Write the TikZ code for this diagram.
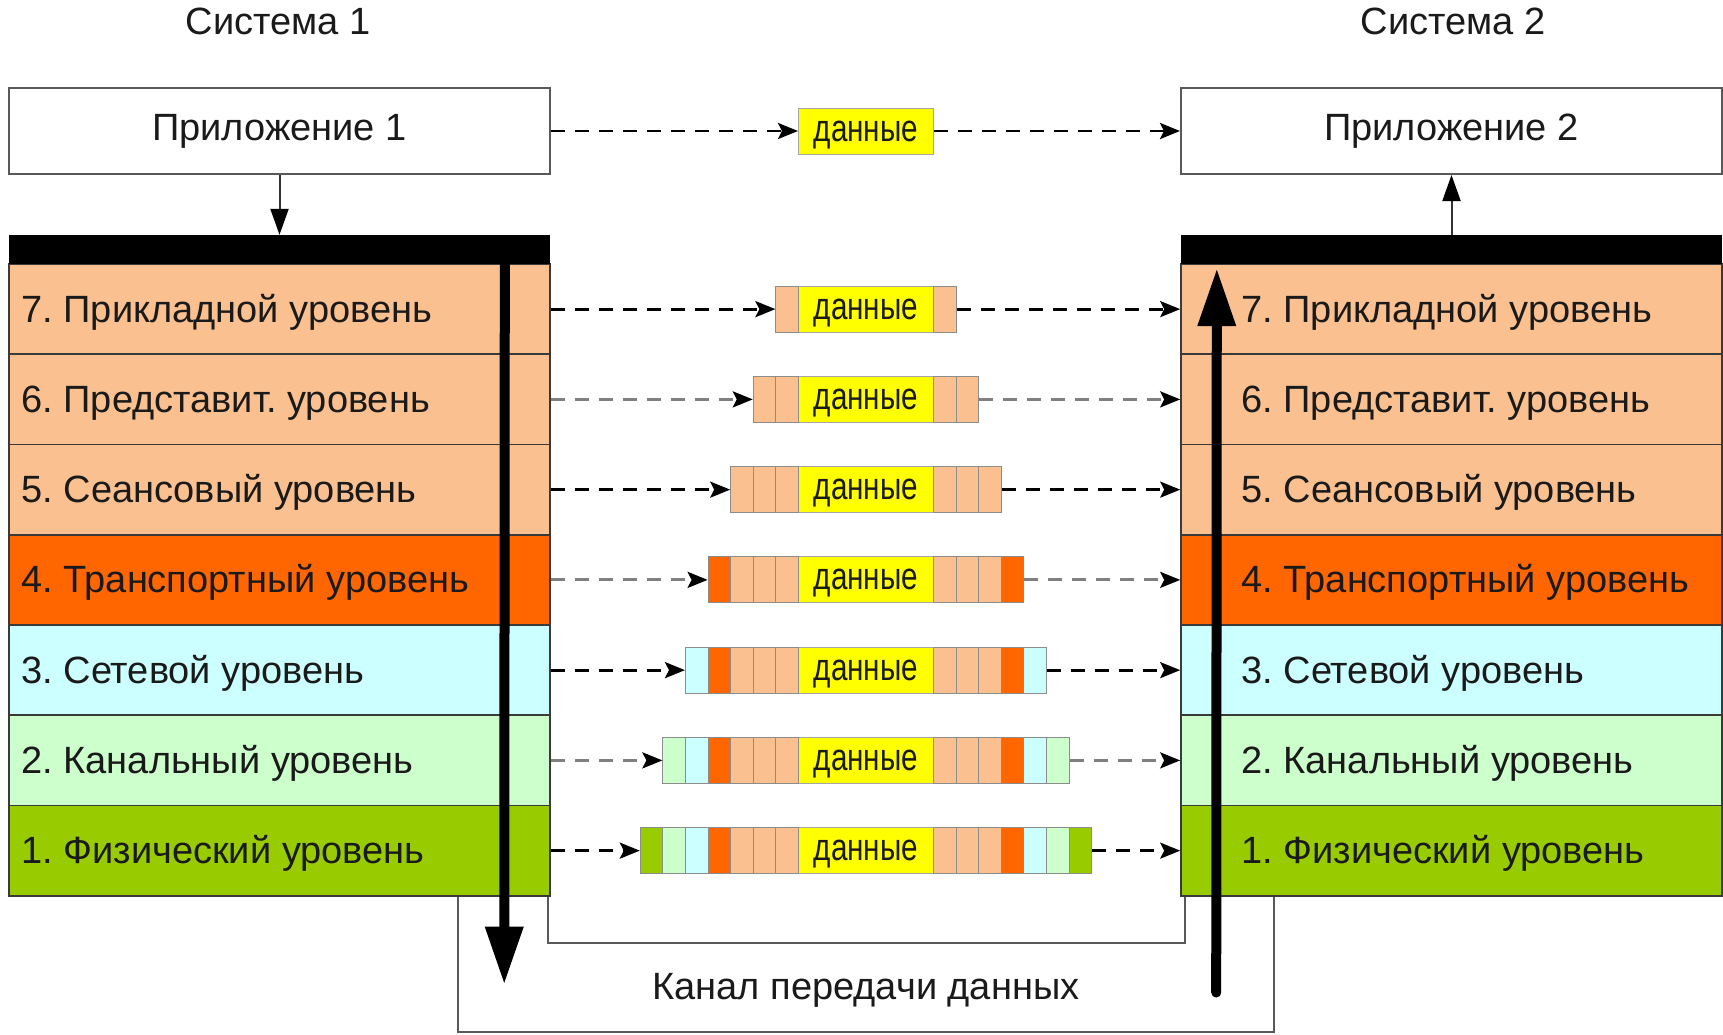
\documentclass[tikz,border=0pt]{standalone}
\usepackage{fontspec}
\setmainfont{Liberation Sans}
\usetikzlibrary{arrows.meta,calc}
\frenchspacing
\definecolor{peach}{HTML}{FAC090}
\definecolor{orng}{HTML}{FF6600}
\definecolor{cyn}{HTML}{CCFFFF}
\definecolor{lgrn}{HTML}{CCFFCC}
\definecolor{grn}{HTML}{99CC00}
\definecolor{ylw}{HTML}{FFFF00}
\definecolor{txt}{HTML}{1A1A1A}
\definecolor{edgec}{HTML}{3A3A3A}
\colorlet{c7}{peach}
\colorlet{c6}{peach}
\colorlet{c5}{peach}
\colorlet{c4}{orng}
\colorlet{c3}{cyn}
\colorlet{c2}{lgrn}
\colorlet{c1}{grn}
\colorlet{d7}{black}
\colorlet{d6}{black!50}
\colorlet{d5}{black}
\colorlet{d4}{black!50}
\colorlet{d3}{black}
\colorlet{d2}{black!50}
\colorlet{d1}{black}
\tikzset{
  bigfont/.style={font=\fontsize{38}{44}\selectfont, text=txt},
  appbox/.style={draw=black!65, line width=2pt, fill=white, minimum width=541pt, minimum height=86pt, inner sep=0pt, bigfont},
  layerbox/.style={draw=edgec, line width=1.6pt, minimum width=541pt, minimum height=90.25pt, inner sep=0pt},
  layertext/.style={anchor=base west, inner sep=0pt, bigfont},
  barbox/.style={fill=black, minimum width=541pt, minimum height=29pt, inner sep=0pt},
  cellbox/.style={draw=black!45, line width=1pt, minimum width=22.6pt, minimum height=46pt, inner sep=0pt},
  databox/.style={draw=black!35, line width=1pt, fill=ylw, minimum width=135pt, minimum height=46pt, inner sep=0pt, text height=20pt, text depth=0pt, bigfont},
  dasharrow/.style={line width=2.8pt, dash pattern=on 14pt off 10pt, -{Stealth[length=20pt,width=16pt,inset=4pt,color=black]}},
  thinarrow/.style={line width=2pt, draw=black!80, -{Triangle[length=26pt,width=18pt,color=black]}},
  bigarrow/.style={line width=10pt, line cap=round, -{Triangle[length=58pt,width=36pt]}},
  bracket/.style={draw=black!65, line width=2pt},
}
\newcommand{\dannye}{\scalebox{0.78}[1]{данные}}
\begin{document}
\begin{tikzpicture}[x=1pt,y=-1pt]
\useasboundingbox (0,0) rectangle (1723,1034);
\fill[white] (0,0) rectangle (1723,1034);

% titles
\node[bigfont, anchor=base, inner sep=0pt] (sys1) at (278,34) {Система 1};
\node[bigfont, anchor=base, inner sep=0pt] (sys2) at (1453,34) {Система 2};

% applications
\node[appbox] (app1) at (279.5,131) {Приложение 1};
\node[appbox] (app2) at (1451.5,131) {Приложение 2};

% layers
\foreach \k/\lbl in {7/Прикладной уровень, 6/Представит. уровень, 5/Сеансовый уровень, 4/Транспортный уровень, 3/Сетевой уровень, 2/Канальный уровень, 1/Физический уровень}{
  \pgfmathsetmacro\yc{264+(7.5-\k)*90.25}
  \node[layerbox, fill=c\k] (L\k) at (279.5,\yc) {};
  \node[layerbox, fill=c\k] (R\k) at (1451.5,\yc) {};
  \node[layertext] (Lt\k) at ($(L\k.west)+(13,13)$) {\k. \lbl};
  \node[layertext] (Rt\k) at ($(R\k.west)+(61,13)$) {\k. \lbl};
}

% black bars
\node[barbox] (LB) at (279.5,249.5) {};
\node[barbox] (RB) at (1451.5,249.5) {};

% brackets (transmission channel)
\coordinate (ib1) at ($(L1.south east)+(-3,0)$);
\coordinate (ib2) at ($(R1.south west)+(5,0)$);
\draw[bracket] (ib1) -- ++(0,46) -| (ib2);
\coordinate (ob1) at ($(L1.south west)+(450,0)$);
\coordinate (ob2) at ($(R1.south west)+(94,0)$);
\draw[bracket] (ob1) -- ++(0,135) -| (ob2);
\node[bigfont, anchor=base, inner sep=0pt] (chan) at (866,999) {Канал передачи данных};

% app <-> bars
\draw[thinarrow] (app1.south) -- (LB.north);
\draw[thinarrow] (RB.north) -- (app2.south);

% top data
\node[databox] (Dtop) at (866,131) {\dannye};
\draw[dasharrow] (app1.east) -- (Dtop.west);
\draw[dasharrow] (Dtop.east) -- (app2.west);

% packets
\foreach \k in {1,...,7}{
  \pgfmathtruncatemacro\n{8-\k}
  \pgfmathsetmacro\yc{264+(7.5-\k)*90.25}
  \node[databox] (D\k) at (866,\yc) {\dannye};
  \foreach \j in {1,...,\n}{
    \pgfmathtruncatemacro\m{\k+\j-1}
    \pgfmathsetmacro\xl{798.5-(\n-\j+0.5)*22.6}
    \pgfmathsetmacro\xr{933.5+(\n-\j+0.5)*22.6}
    \node[cellbox, fill=c\m] (P\k-l-\j) at (\xl,\yc) {};
    \node[cellbox, fill=c\m] (P\k-r-\j) at (\xr,\yc) {};
  }
  \draw[dasharrow, draw=d\k] (L\k.east) -- (P\k-l-1.west);
  \draw[dasharrow, draw=d\k] (P\k-r-1.east) -- (R\k.west);
}

% big arrows
\coordinate (dtop) at ($(LB.south west)+(496,0)$);
\coordinate (dbot) at ($(L1.south west)+(496,88)$);
\draw[bigarrow] (dtop) -- (dbot);
\coordinate (ubot) at ($(R1.south west)+(36,96)$);
\coordinate (utop) at ($(RB.south west)+(36,4)$);
\draw[bigarrow] (ubot) -- (utop);
\end{tikzpicture}
\end{document}
